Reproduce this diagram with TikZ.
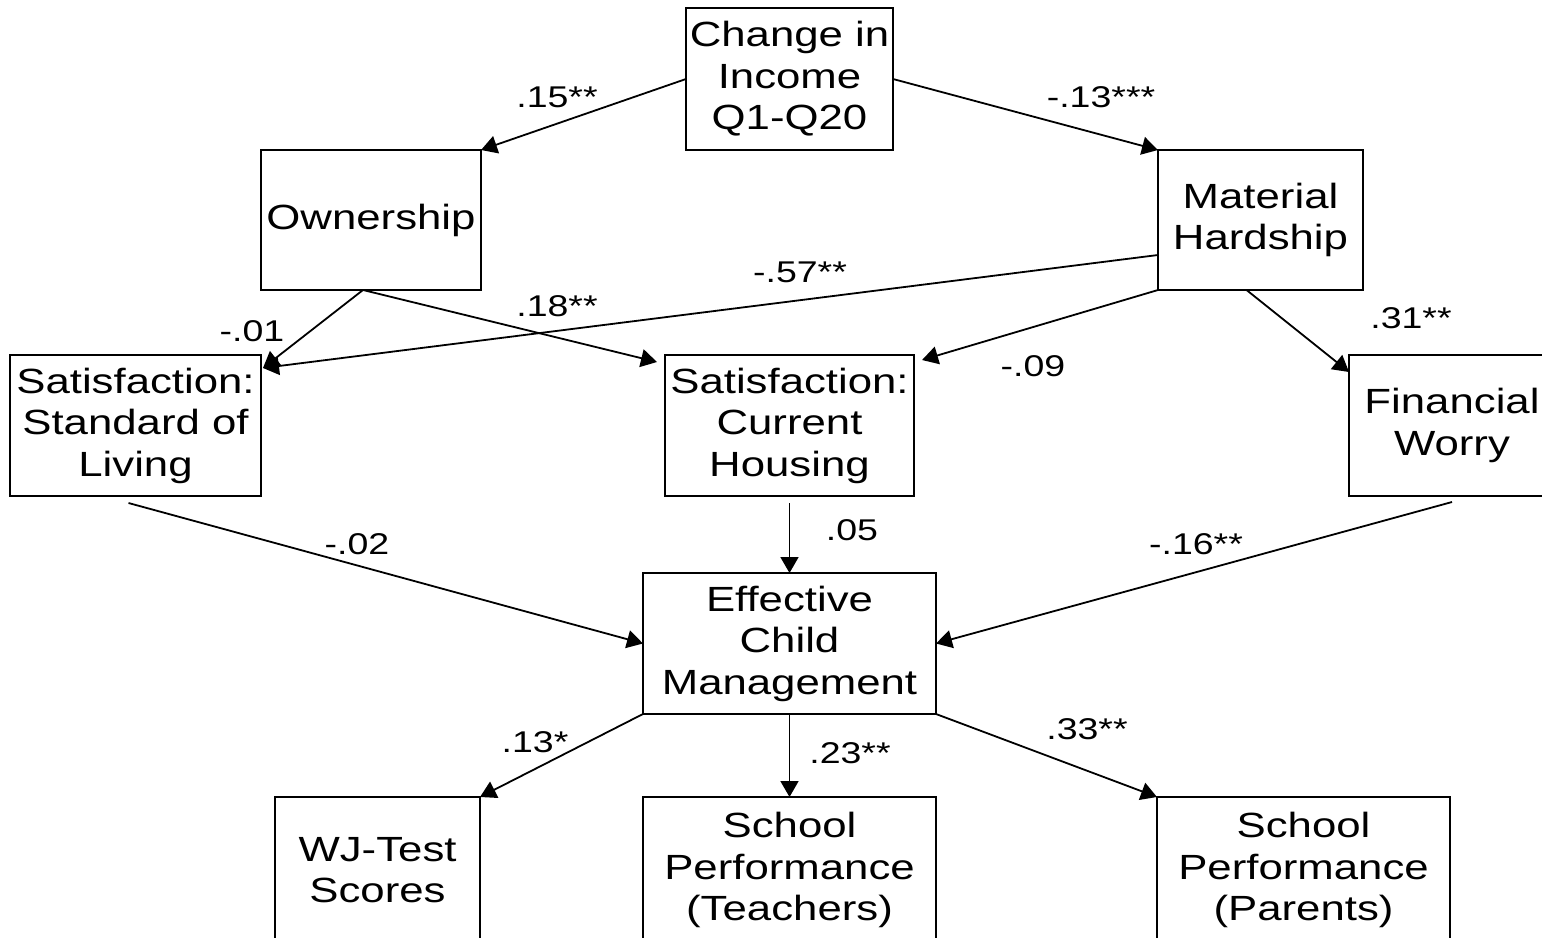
\documentclass[tikz,border=0pt]{standalone}
\usepackage{fontspec}
\setmainfont{Liberation Sans}[FakeStretch=1.25]
\usetikzlibrary{positioning, arrows.meta}

\newcommand{\boxfont}{\fontsize{35pt}{41.5pt}\selectfont}
\newcommand{\coeffont}{\fontsize{30pt}{35pt}\selectfont}

\begin{document}
\begin{tikzpicture}[
  construct/.style={draw, line width=1.8pt, inner sep=2pt, outer sep=0pt, align=center, font=\boxfont},
  coef/.style={inner sep=0pt, font=\coeffont},
  effect/.style={->, line width=1.8pt},
  >={Triangle[length=16pt, width=18pt]}
]
\useasboundingbox (0pt,0pt) rectangle (1542pt,-937pt);
\clip (0pt,0pt) rectangle (1542pt,-937pt);

% Exogenous income change
\node[construct, minimum width=207pt, minimum height=142pt] (income) at (789.5pt,-79pt) {Change in\\Income\\Q1-Q20};

% Mediators
\node[construct, minimum width=220pt, minimum height=140pt, below left=0pt and 205pt of income] (own) {Ownership};
\node[construct, minimum width=205pt, minimum height=140pt, below right=0pt and 265pt of income] (hard) {Material\\Hardship};

\node[construct, minimum width=249pt, minimum height=141pt, below=205pt of income] (hous) {Satisfaction:\\Current\\Housing};
\node[construct, minimum width=251pt, minimum height=141pt, left=404pt of hous] (sol) {Satisfaction:\\Standard of\\Living};
\node[construct, minimum width=206pt, minimum height=141pt, right=435pt of hous] (worry) {Financial\\Worry};

\node[construct, minimum width=293pt, minimum height=141pt, below=77pt of hous] (ecm) {Effective\\Child\\Management};

% Child outcomes (run past the lower edge)
\node[construct, minimum width=293pt, minimum height=146pt, below=83pt of ecm] (spt) {School\\Performance\\(Teachers)};
\node[construct, minimum width=205pt, minimum height=146pt, left=163pt of spt] (wj) {WJ-Test\\Scores};
\node[construct, minimum width=293pt, minimum height=146pt, right=221pt of spt] (spp) {School\\Performance\\(Parents)};

% Paths
\draw[effect] (income.west) -- (own.north east);
\draw[effect] (income.east) -- (hard.north west);
\draw[effect] ([xshift=-8pt]own.south) -- ([shift={(2pt,-13pt)}]sol.north east);
\draw[effect] ([xshift=-8pt]own.south) -- ([shift={(-8pt,-7pt)}]hous.north west);
\draw[effect] ([yshift=-35pt]hard.west) -- ([shift={(2pt,-13pt)}]sol.north east);
\draw[effect] (hard.south west) -- ([shift={(8pt,-5pt)}]hous.north east);
\draw[effect] ([xshift=-14pt]hard.south) -- ([yshift=-17pt]worry.north west);
\draw[effect] ([shift={(-7pt,-7pt)}]sol.south) -- (ecm.west);
\draw[effect] ([yshift=-7pt]hous.south) -- (ecm.north);
\draw[effect] ([yshift=-6pt]worry.south) -- (ecm.east);
\draw[effect] (ecm.south west) -- (wj.north east);
\draw[effect] (ecm.south) -- (spt.north);
\draw[effect] (ecm.south east) -- (spp.north west);

% Path coefficients
\node[coef] (c15) at (557pt,-97pt) {.15**};
\node[coef] (c13a) at (1101pt,-97pt) {-.13***};
\node[coef] (c57) at (800pt,-272pt) {-.57**};
\node[coef] (c18) at (557pt,-306pt) {.18**};
\node[coef] (c01) at (252pt,-331pt) {-.01};
\node[coef] (c09) at (1033pt,-366pt) {-.09};
\node[coef] (c31) at (1411pt,-318pt) {.31**};
\node[coef] (c02) at (357pt,-544pt) {-.02};
\node[coef] (c05) at (852pt,-530pt) {.05};
\node[coef] (c16) at (1196pt,-544pt) {-.16**};
\node[coef] (c13b) at (535pt,-742pt) {.13*};
\node[coef] (c23) at (850pt,-753pt) {.23**};
\node[coef] (c33) at (1087pt,-729pt) {.33**};

\end{tikzpicture}
\end{document}
